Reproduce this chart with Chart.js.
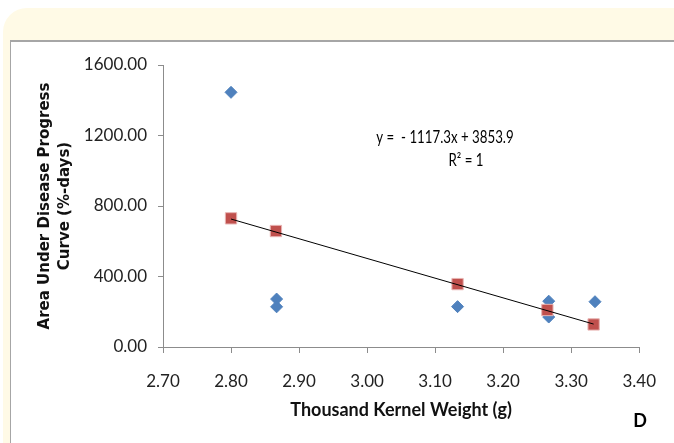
<!DOCTYPE html>
<html>
<head>
<meta charset="utf-8">
<script src="https://cdn.jsdelivr.net/npm/chart.js@4"></script>
<style>
  html, body { margin: 0; padding: 0; background: #fff; }
  #wrap { position: relative; width: 674px; height: 443px; overflow: hidden; }
  .cream { position: absolute; left: 3px; top: 8px; width: 700px; height: 500px; background: #fffae6; border-radius: 24px 24px 0 0; }
  .panel { position: absolute; left: 10px; top: 40px; width: 700px; height: 500px; background: #fff; border-top: 2px solid #a6a6a6; border-left: 1px solid #a6a6a6; }
  canvas { position: absolute; left: 0; top: 0; }
</style>
</head>
<body>
<div id="wrap">
  <div class="cream"></div>
  <div class="panel"></div>
  <canvas id="chart" width="674" height="443"></canvas>
</div>
<script>
// thousand kernel weight vs AUDPC
const blueX = [2.80, 2.867, 2.867, 3.133, 3.267, 3.267, 3.335];
const blueY = [1445, 272, 228, 229, 260, 170, 257];
const redX = [2.80, 2.866, 3.133, 3.265, 3.333];
const redY = [730, 658, 357, 210, 128];
const trendX = [2.80, 3.333];
const trendY = [726, 130];
const xTicks = [2.7, 2.8, 2.9, 3.0, 3.1, 3.2, 3.3, 3.4];
const yTicks = [0, 400, 800, 1200, 1600];

const toPoints = (xs, ys) => xs.map((x, i) => ({ x: x, y: ys[i] }));

// narrow text, like the excel label
function narrowText(ctx, text, x, y) {
    ctx.save();
    ctx.translate(x, y);
    ctx.scale(0.78, 1);
    ctx.fillText(text, 0, 0);
    ctx.restore();
}

const equationLabel = {
    id: 'equationLabel',
    afterDatasetsDraw(chart) {
        const ctx = chart.ctx;
        const a = chart.chartArea;
        ctx.save();
        ctx.fillStyle = '#000';
        ctx.font = '17px Lato';
        ctx.textAlign = 'center';
        ctx.textBaseline = 'middle';
        narrowText(ctx, 'y =  - 1117.3x + 3853.9', a.left + 282, a.top + 73);
        narrowText(ctx, 'R\u00B2 = 1', a.left + 303, a.top + 96);
        ctx.font = 'bold 18px Lato';
        ctx.fillText('D', 640, 421);
        ctx.restore();
    }
};

new Chart(document.getElementById('chart'), {
    type: 'scatter',
    data: {
        datasets: [
            {
                type: 'line',
                data: toPoints(trendX, trendY),
                borderColor: '#000',
                borderWidth: 1,
                pointRadius: 0,
                fill: false,
                order: 0
            },
            {
                data: toPoints(redX, redY),
                pointStyle: 'rect',
                pointRadius: 8,
                backgroundColor: '#c0504d',
                borderColor: '#e8b4b3',
                borderWidth: 1,
                order: 1
            },
            {
                data: toPoints(blueX, blueY),
                pointStyle: 'rectRot',
                pointRadius: 6,
                backgroundColor: '#4f81bd',
                borderColor: '#4f81bd',
                borderWidth: 1,
                order: 2
            }
        ]
    },
    options: {
        responsive: false,
        animation: false,
        layout: { padding: { left: 0, right: 34, top: 65, bottom: 0 } },
        plugins: {
            legend: { display: false },
            tooltip: { enabled: false }
        },
        scales: {
            x: {
                type: 'linear',
                min: 2.7,
                max: 3.4,
                afterBuildTicks: s => { s.ticks = xTicks.map(v => ({ value: v })); },
                afterFit: s => { s.height = 96; },
                ticks: {
                    callback: v => Number(v).toFixed(2),
                    color: '#222',
                    font: { family: 'Lato', size: 17 },
                    padding: 18
                },
                grid: { drawOnChartArea: false, color: '#8c8c8c', tickLength: 6 },
                border: { color: '#8c8c8c', width: 1 },
                title: {
                    display: true,
                    text: 'Thousand Kernel Weight (g)',
                    color: '#111',
                    font: { family: 'Lato', size: 18, weight: 'bold' },
                    padding: { bottom: 22 }
                }
            },
            y: {
                min: 0,
                max: 1600,
                afterBuildTicks: s => { s.ticks = yTicks.map(v => ({ value: v })); },
                afterFit: s => { s.width = 163; },
                ticks: {
                    callback: v => Number(v).toFixed(2),
                    color: '#222',
                    font: { family: 'Lato', size: 17 },
                    padding: 11
                },
                grid: { drawOnChartArea: false, color: '#8c8c8c', tickLength: 5 },
                border: { color: '#8c8c8c', width: 1 },
                title: {
                    display: true,
                    text: ['Area Under Disease Progress', 'Curve (%-days)'],
                    color: '#111',
                    font: { family: 'DejaVu Sans', size: 15, weight: 'bold', lineHeight: 1.33 },
                    padding: { top: 35 }
                }
            }
        }
    },
    plugins: [equationLabel]
});
</script>
</body>
</html>
